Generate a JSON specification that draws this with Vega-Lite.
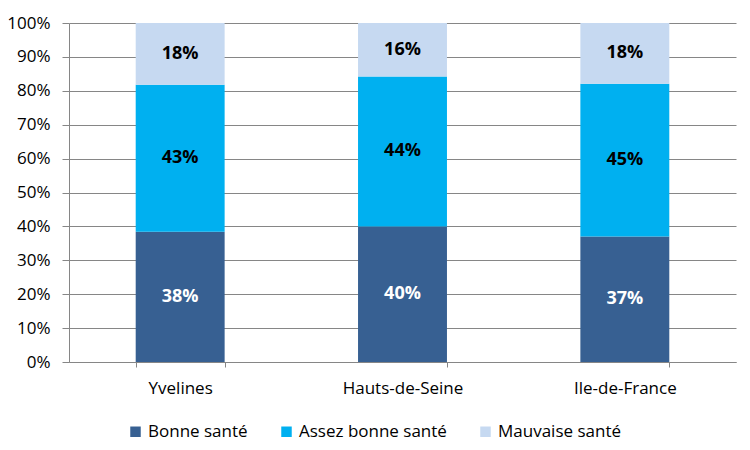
{
  "$schema": "https://vega.github.io/schema/vega-lite/v6.json",
  "width": 667,
  "height": 339,
  "autosize": {"type": "none"},
  "padding": {"left": 69, "top": 23, "right": 14, "bottom": 88},
  "background": "white",
  "config": {
    "view": {"stroke": null},
    "font": "Open Sans",
    "axisY": {
      "title": null,
      "values": [0, 0.1, 0.2, 0.3, 0.4, 0.5, 0.6, 0.7, 0.8, 0.9, 1],
      "format": ".0%",
      "labelOverlap": false,
      "labelFontSize": 17,
      "labelColor": "#000000",
      "labelPadding": 12,
      "tickSize": 7,
      "tickColor": "#868686",
      "domainColor": "#868686",
      "gridColor": "#868686",
      "gridOpacity": 1
    }
  },
  "data": {
    "values": [
      {"region": "Yvelines", "cat": "Bonne santé", "k": 1, "v": 0.384},
      {"region": "Yvelines", "cat": "Assez bonne santé", "k": 2, "v": 0.434},
      {"region": "Yvelines", "cat": "Mauvaise santé", "k": 3, "v": 0.182},
      {"region": "Hauts-de-Seine", "cat": "Bonne santé", "k": 1, "v": 0.400},
      {"region": "Hauts-de-Seine", "cat": "Assez bonne santé", "k": 2, "v": 0.442},
      {"region": "Hauts-de-Seine", "cat": "Mauvaise santé", "k": 3, "v": 0.158},
      {"region": "Ile-de-France", "cat": "Bonne santé", "k": 1, "v": 0.370},
      {"region": "Ile-de-France", "cat": "Assez bonne santé", "k": 2, "v": 0.451},
      {"region": "Ile-de-France", "cat": "Mauvaise santé", "k": 3, "v": 0.179}
    ]
  },
  "transform": [
    {"stack": "v", "groupby": ["region"], "sort": [{"field": "k", "order": "ascending"}], "as": ["y0", "y1"]},
    {"calculate": "(datum.y0 + datum.y1) / 2", "as": "ym"}
  ],
  "encoding": {
    "x": {
      "field": "region",
      "type": "nominal",
      "sort": ["Yvelines", "Hauts-de-Seine", "Ile-de-France"],
      "scale": {"paddingInner": 0.6, "paddingOuter": 0.3},
      "axis": {
        "title": null,
        "labelAngle": 0,
        "labelFontSize": 17,
        "labelColor": "#000000",
        "labelPadding": 13,
        "tickBand": "extent",
        "tickSize": 5,
        "tickColor": "#868686",
        "domainColor": "#868686",
        "grid": false
      }
    }
  },
  "layer": [
    {
      "mark": {"type": "bar"},
      "encoding": {
        "y": {
          "field": "y0",
          "type": "quantitative",
          "scale": {"domain": [0, 1], "nice": false},
          "title": null
        },
        "y2": {"field": "y1"},
        "color": {
          "field": "cat",
          "type": "nominal",
          "scale": {
            "domain": ["Bonne santé", "Assez bonne santé", "Mauvaise santé"],
            "range": ["#376092", "#00B0F0", "#C6D9F1"]
          },
          "legend": {
            "title": null,
            "orient": "none",
            "legendX": 58,
            "legendY": 400,
            "direction": "horizontal",
            "symbolType": "square",
            "symbolSize": 110,
            "symbolStrokeWidth": 0,
            "symbolOpacity": 1,
            "labelFontSize": 17,
            "labelColor": "#000000",
            "labelLimit": 300,
            "labelOffset": 4,
            "columnPadding": 30
          }
        }
      }
    },
    {
      "mark": {"type": "text", "fontWeight": "bold", "fontSize": 18},
      "encoding": {
        "y": {"field": "ym", "type": "quantitative", "title": null},
        "text": {"field": "v", "type": "quantitative", "format": ".0%"},
        "color": {"condition": {"test": "datum.cat === 'Bonne santé'", "value": "#FFFFFF"}, "value": "#000000"}
      }
    }
  ]
}
